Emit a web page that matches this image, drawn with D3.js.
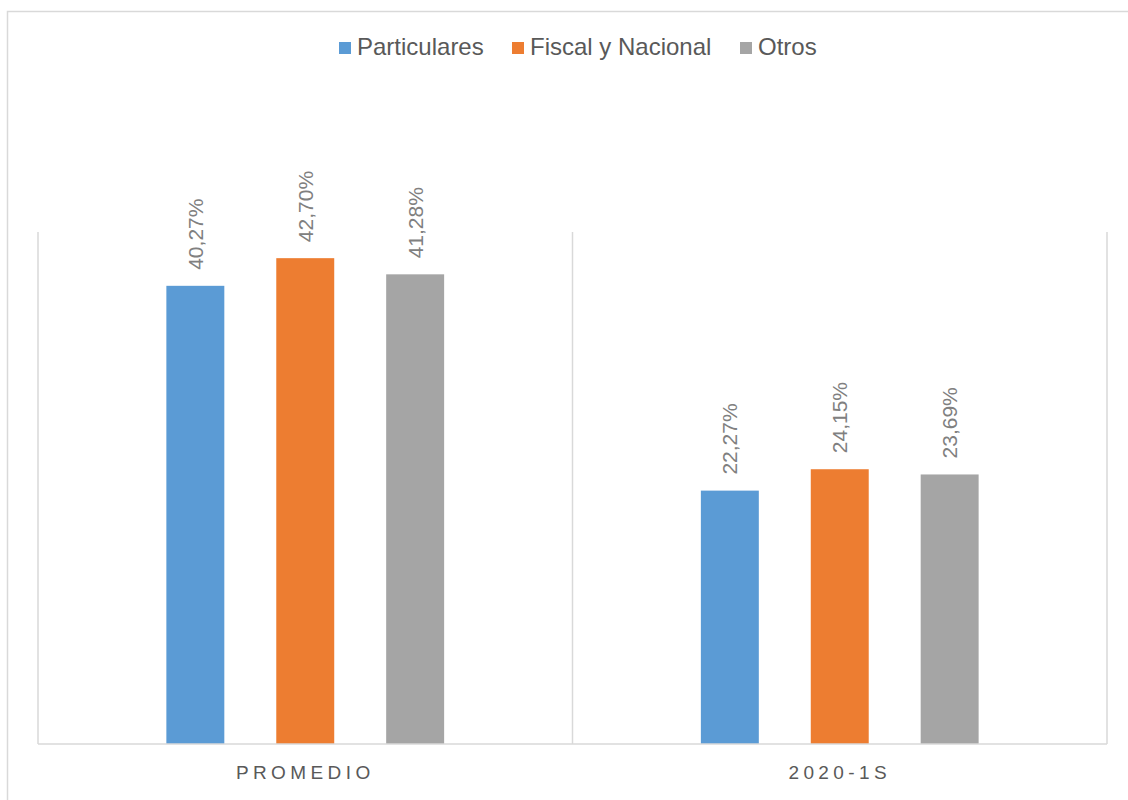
<!DOCTYPE html>
<html>
<head>
<meta charset="utf-8">
<script src="https://cdn.jsdelivr.net/npm/d3@7/dist/d3.min.js"></script>
<style>
  html, body { margin: 0; padding: 0; background: #fff; }
  svg { display: block; }
</style>
</head>
<body>
<svg id="chart" width="1128" height="800"></svg>
<script>
const categories = ["PROMEDIO", "2020-1S"];
const seriesNames = ["Particulares", "Fiscal y Nacional", "Otros"];
const seriesColors = ["#5B9BD5", "#ED7D31", "#A5A5A5"];
const particulares = [40.27, 22.27];
const fiscalNacional = [42.70, 24.15];
const otros = [41.28, 23.69];
const seriesValues = [particulares, fiscalNacional, otros];

const svg = d3.select("#chart");
const fontFam = "'Liberation Sans', Arial, Helvetica, sans-serif";

// chart border
svg.append("rect").attr("x", 7.5).attr("y", 11.5).attr("width", 1140).attr("height", 820)
  .attr("fill", "none").attr("stroke", "#D9D9D9").attr("stroke-width", 1.5);

const plot = { left: 38, right: 1107, top: 232, bottom: 744 };

const x0 = d3.scaleBand().domain(categories).range([plot.left, plot.right]).padding(0);
const x1 = d3.scaleBand().domain(seriesNames).range([0, x0.bandwidth()])
  .paddingInner(0.4727).paddingOuter(1.168);
const y = d3.scaleLinear().domain([0, 45]).range([plot.bottom, plot.top]);

// vertical separators
const seps = [plot.left, ...categories.map(c => x0(c) + x0.bandwidth())];
svg.append("g").selectAll("line").data(seps).join("line")
  .attr("x1", d => d).attr("x2", d => d)
  .attr("y1", plot.top).attr("y2", plot.bottom)
  .attr("stroke", "#D9D9D9").attr("stroke-width", 1.5);

// bars
const data = [];
categories.forEach((c, ci) => seriesNames.forEach((s, si) => data.push({ c, s, si, v: seriesValues[si][ci] })));

svg.append("g").selectAll("rect").data(data).join("rect")
  .attr("x", d => x0(d.c) + x1(d.s))
  .attr("y", d => y(d.v))
  .attr("width", x1.bandwidth())
  .attr("height", d => y(0) - y(d.v))
  .attr("fill", d => seriesColors[d.si]);

// baseline
svg.append("line").attr("x1", plot.left).attr("x2", plot.right)
  .attr("y1", plot.bottom).attr("y2", plot.bottom)
  .attr("stroke", "#D9D9D9").attr("stroke-width", 1.5);

// value labels
const fmt = v => v.toFixed(2).replace(".", ",") + "%";
svg.append("g").selectAll("text").data(data).join("text")
  .attr("transform", d => `translate(${x0(d.c) + x1(d.s) + x1.bandwidth() / 2},${y(d.v) - 16}) rotate(-90)`)
  .attr("dy", "0.35em")
  .attr("text-anchor", "start")
  .attr("font-family", fontFam).attr("font-size", 21)
  .attr("fill", "#808080")
  .text(d => fmt(d.v));

// category axis labels
const xAxis = d3.axisBottom(x0).tickSize(0).tickPadding(0);
const gx = svg.append("g").attr("transform", `translate(0,${plot.bottom})`).call(xAxis);
gx.select(".domain").remove();
gx.selectAll("text")
  .attr("y", 35).attr("dy", 0)
  .attr("font-family", fontFam).attr("font-size", 19)
  .attr("letter-spacing", "4.4px")
  .attr("fill", "#595959");

// legend
const legendX = [339, 512, 740];
const lg = svg.append("g").selectAll("g").data(seriesNames).join("g")
  .attr("transform", (d, i) => `translate(${legendX[i]},0)`);
lg.append("rect").attr("x", 0).attr("y", 42).attr("width", 12).attr("height", 12)
  .attr("fill", (d, i) => seriesColors[i]);
lg.append("text").attr("x", 18).attr("y", 55)
  .attr("font-family", fontFam).attr("font-size", 24).attr("fill", "#595959")
  .text(d => d);
</script>
</body>
</html>
